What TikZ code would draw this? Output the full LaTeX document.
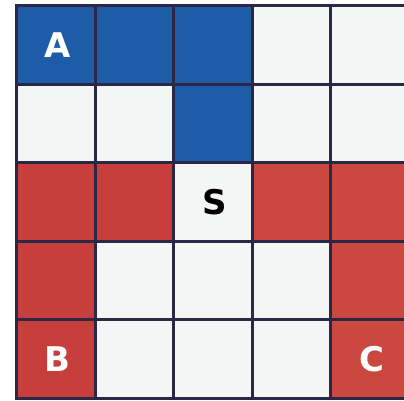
\documentclass[tikz,border=0pt]{standalone}
\usepackage{fontspec}
\setsansfont{DejaVu Sans}
\usetikzlibrary{positioning}
\definecolor{cellblue}{RGB}{30,92,167}
\definecolor{cellred}{RGB}{200,62,58}
\definecolor{cellredl}{RGB}{203,72,64}
\definecolor{cellwhite}{RGB}{244,245,245}
\definecolor{gridline}{RGB}{42,40,70}

\begin{document}
\begin{tikzpicture}[x=1pt, y=1pt,
  cell/.style={draw=gridline, line width=3pt, minimum size=78.6pt, inner sep=0pt},
  lbl/.style={font=\sffamily\bfseries\fontsize{34}{34}\selectfont, inner sep=0pt, xshift=2pt}]

\useasboundingbox (0,0) rectangle (404,-401);
\clip (0,0) rectangle (404,-401);

% board
\foreach \row [count=\r] in {
  {cellblue,cellblue,cellblue,cellwhite,cellwhite},
  {cellwhite,cellwhite,cellblue,cellwhite,cellwhite},
  {cellred,cellred,cellwhite,cellredl,cellredl},
  {cellred,cellwhite,cellwhite,cellwhite,cellredl},
  {cellred,cellwhite,cellwhite,cellwhite,cellredl}}
  \foreach \fillc [count=\c] in \row
    \node[cell, fill=\fillc] (c\r\c) at ({16.5+78.6*(\c-0.5)},{-5.5-78.6*(\r-0.5)}) {};

% letters
\node[lbl, text=white] (labA) at (c11) {A};
\node[lbl, text=black] (labS) at (c33) {S};
\node[lbl, text=white] (labB) at (c51) {B};
\node[lbl, text=white] (labC) at (c55) {C};
\end{tikzpicture}
\end{document}
